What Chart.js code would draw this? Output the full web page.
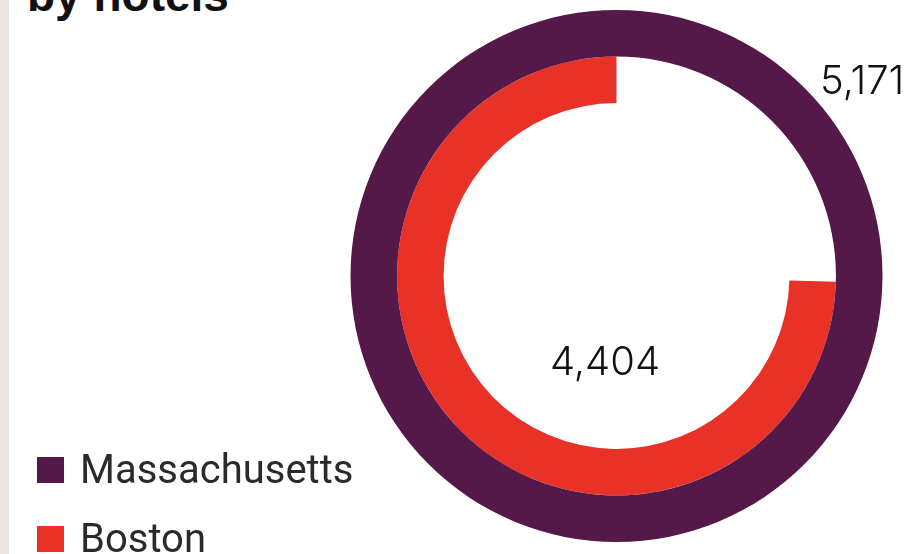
<!DOCTYPE html>
<html lang="en">
<head>
  <meta charset="UTF-8">
  <script src="https://cdn.jsdelivr.net/npm/chart.js"></script>
  <title>Hotel rooms by hotels</title>
  <style>
    html, body { margin: 0; padding: 0; background: #fff; }
    .page { position: relative; width: 919px; height: 554px; overflow: hidden; }
    .strip { position: absolute; left: 0; top: 0; width: 9px; height: 554px; background: #ece8e1; }
    .titulo { position: absolute; left: 27px; top: -32px; font: bold 46px "Liberation Sans", Arial, sans-serif; color: #111; white-space: nowrap; }
    #grafico { position: absolute; left: 0; top: 0; }
    .valor { position: absolute; font: 300 40px "Inter", "Open Sans", sans-serif; color: #111; white-space: nowrap; line-height: 1; }
    .legenda { position: absolute; left: 37px; top: 435px; font: 40px Roboto, "Liberation Sans", sans-serif; color: #2a2a2a; }
    .item { display: flex; align-items: center; height: 69px; }
    .quad { width: 27px; height: 26px; margin-right: 16px; }
  </style>
</head>
<body>
  <div class="page">
    <div class="strip"></div>
    <div class="titulo">by hotels</div>
    <canvas id="grafico" width="919" height="554"></canvas>
    <div id="valorMass" class="valor" style="left: 820px; top: 60px;"></div>
    <div id="valorBoston" class="valor" style="left: 550px; top: 341px;"></div>
    <div id="legenda" class="legenda"></div>
  </div>

<script>
  // dados
  const regioes = ['Massachusetts', 'Boston'];
  const quartos = [5171, 4404];
  const cores = ['#541948', '#e83228'];
  // quanto do anel cada serie cobre (graus)
  const arcos = [360, 268.5];

  const formatar = v => v.toLocaleString('en-US');

  document.getElementById('valorMass').textContent = formatar(quartos[0]);
  document.getElementById('valorBoston').textContent = formatar(quartos[1]);

  const legenda = document.getElementById('legenda');
  regioes.forEach((nome, i) => {
    const item = document.createElement('div');
    item.className = 'item';
    item.innerHTML = '<span class="quad" style="background:' + cores[i] + '"></span>' + nome;
    legenda.appendChild(item);
  });

  const grafico = new Chart(document.getElementById('grafico').getContext('2d'), {
    type: 'doughnut',
    data: {
      labels: regioes,
      datasets: regioes.map((nome, i) => ({
        label: nome,
        data: [quartos[i]],
        backgroundColor: cores[i],
        borderWidth: 0,
        circumference: arcos[i],
        rotation: 360 - arcos[i]
      }))
    },
    options: {
      responsive: false,
      animation: false,
      cutout: '65%',
      layout: { padding: { left: 350, right: 36, top: 10, bottom: 12 } },
      plugins: {
        legend: { display: false },
        tooltip: { enabled: false }
      }
    }
  });
</script>
</body>
</html>
